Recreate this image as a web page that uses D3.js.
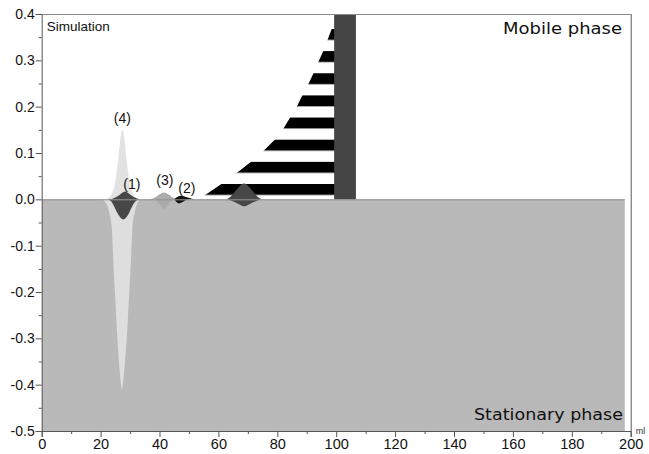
<!DOCTYPE html>
<html>
<head>
<meta charset="utf-8">
<script src="https://cdn.jsdelivr.net/npm/d3@7"></script>
<style>
  html, body { margin: 0; padding: 0; background: #fff; }
  svg { display: block; font-family: "Liberation Sans", Arial, sans-serif; }
</style>
</head>
<body>
<svg id="chart" width="649" height="454"></svg>
<script>
// ---- axis ranges and ticks ----
const xDomain = [0, 200];
const yDomain = [-0.5, 0.4];
const xMajorTicks = [0, 20, 40, 60, 80, 100, 120, 140, 160, 180, 200];
const xMinorTicks = [10, 30, 50, 70, 90, 110, 130, 150, 170, 190];
const yMajorTicks = [0.4, 0.3, 0.2, 0.1, 0.0, -0.1, -0.2, -0.3, -0.4, -0.5];
const yMinorTicks = [0.35, 0.25, 0.15, 0.05, -0.05, -0.15, -0.25, -0.35, -0.45];

// ---- stationary phase bed (ml) ----
const stationaryBed = [0, 198];

// ---- concentration profiles: [ml, value] ----
// solute front travelling in the mobile phase (drawn hatched)
const frontMobile = [
  [53.5, 0], [55.4, 0.009], [60.9, 0.0325], [66.2, 0.057], [71.1, 0.081],
  [75.2, 0.104], [79.2, 0.129], [82.0, 0.152], [84.3, 0.176], [86.6, 0.200],
  [88.5, 0.224], [90.5, 0.248], [92.2, 0.271], [93.9, 0.296], [95.6, 0.320],
  [97.0, 0.343], [98.5, 0.368], [99.6, 0.392]
];
// saturated zone, runs off the top of the scale
const saturatedZone = [99.3, 106.7];
const saturatedTop = 0.4;

// peak (4)
const peak4Mobile = [
  [21.5, 0], [23.0, 0.005], [24.0, 0.015], [24.7, 0.028], [25.5, 0.060],
  [26.2, 0.098], [26.8, 0.135], [27.4, 0.150], [28.0, 0.135], [28.6, 0.098],
  [29.3, 0.060], [30.1, 0.028], [30.8, 0.015], [31.8, 0.005], [33.3, 0]
];
const peak4Stationary = [
  [20.4, 0], [22.1, -0.011], [23.0, -0.030], [23.8, -0.061], [24.3, -0.133],
  [24.9, -0.205], [25.5, -0.277], [26.2, -0.349], [26.8, -0.392], [27.2, -0.410],
  [27.7, -0.392], [28.3, -0.349], [29.1, -0.277], [29.7, -0.205], [30.3, -0.133],
  [30.8, -0.061], [31.5, -0.030], [32.3, -0.011], [33.6, 0]
];
// peak (1)
const peak1Mobile = [
  [23.5, 0], [25.0, 0.004], [26.5, 0.010], [27.5, 0.015], [28.3, 0.017],
  [29.1, 0.015], [30.1, 0.010], [31.6, 0.004], [33.2, 0]
];
const peak1Stationary = [
  [22.5, 0], [24.0, -0.008], [25.1, -0.022], [26.0, -0.033], [26.8, -0.040],
  [27.7, -0.0435], [28.6, -0.040], [29.4, -0.033], [30.2, -0.022], [31.4, -0.008], [33.0, 0]
];
// peak (3)
const peak3Mobile = [
  [36.8, 0], [38.5, 0.004], [40.0, 0.011], [41.5, 0.015], [43.0, 0.011], [44.5, 0.004], [46.2, 0]
];
const peak3Stationary = [
  [38.5, 0], [39.5, -0.006], [40.5, -0.015], [41.5, -0.021], [42.5, -0.015], [43.5, -0.006], [44.5, 0]
];
// peak (2)
const peak2Mobile = [
  [45.0, 0], [46.0, 0.005], [47.0, 0.008], [48.0, 0.007], [49.5, 0.004], [51.0, 0.0015], [52.5, 0]
];
const peak2Stationary = [
  [45.0, 0], [45.8, -0.006], [46.6, -0.009], [47.5, -0.007], [48.5, -0.003], [50.0, 0]
];
// unlabelled peak riding on the front
const peak5Mobile = [
  [62.8, 0], [64.0, 0.005], [65.3, 0.014], [66.7, 0.025], [68.7, 0.034],
  [70.7, 0.025], [72.1, 0.014], [73.4, 0.005], [74.7, 0]
];
const peak5Stationary = [
  [63.0, 0], [65.5, -0.006], [67.5, -0.012], [68.7, -0.015], [70.0, -0.012], [72.0, -0.006], [74.5, 0]
];

// peak labels: text, ml, value of the baseline
const peakLabels = [
  ["(4)", 27.4, 0.165],
  ["(1)", 30.6, 0.023],
  ["(3)", 41.8, 0.030],
  ["(2)", 49.3, 0.0146]
];

// hatch of the front, in value units
const hatchPeriod = 0.0478;
const hatchBase = 0.0095;
const hatchBand = 0.0236;

// ---- layout ----
const svg = d3.select("#chart");
const plot = { left: 41.7, right: 630.7, top: 14, bottom: 431 };

const x = d3.scaleLinear().domain(xDomain).range([plot.left, plot.right]);
const y = d3.scaleLinear().domain(yDomain).range([plot.bottom, plot.top]);

const defs = svg.append("defs");
defs.append("clipPath").attr("id", "plotClip")
  .append("rect")
  .attr("x", plot.left).attr("y", plot.top)
  .attr("width", plot.right - plot.left).attr("height", plot.bottom - plot.top);

const periodPx = y(0) - y(hatchPeriod);
const bandPx = y(0) - y(hatchBand);
const hatch = defs.append("pattern")
  .attr("id", "hatch")
  .attr("patternUnits", "userSpaceOnUse")
  .attr("x", 0)
  .attr("y", y(hatchBase + hatchBand))
  .attr("width", 20)
  .attr("height", periodPx);
hatch.append("rect").attr("x", 0).attr("y", 0).attr("width", 20).attr("height", bandPx).attr("fill", "#000");

const g = svg.append("g").attr("clip-path", "url(#plotClip)");

// stationary phase
g.append("rect")
  .attr("x", x(stationaryBed[0]))
  .attr("width", x(stationaryBed[1]) - x(stationaryBed[0]))
  .attr("y", y(0))
  .attr("height", y(yDomain[0]) - y(0))
  .attr("fill", "#b9b9b9");

const area = d3.area()
  .x(d => x(d[0]))
  .y0(y(0))
  .y1(d => y(d[1]))
  .curve(d3.curveMonotoneX);

// hatched front
g.append("path")
  .datum(frontMobile)
  .attr("d", d3.area().x(d => x(d[0])).y0(y(0)).y1(d => y(d[1]))(frontMobile))
  .attr("fill", "url(#hatch)");

function peak(data, fill) {
  g.append("path").datum(data).attr("d", area).attr("fill", fill);
}

peak(peak4Mobile, "#e2e2e2");
peak(peak4Stationary, "#dedede");
peak(peak3Mobile, "#acacac");
peak(peak3Stationary, "#a9a9a9");
peak(peak1Mobile, "#474747");
peak(peak1Stationary, "#474747");
peak(peak2Mobile, "#111111");
peak(peak2Stationary, "#111111");
peak(peak5Mobile, "#474747");
peak(peak5Stationary, "#474747");

// saturated zone
g.append("rect")
  .attr("x", x(saturatedZone[0]))
  .attr("width", x(saturatedZone[1]) - x(saturatedZone[0]))
  .attr("y", y(saturatedTop))
  .attr("height", y(0) - y(saturatedTop))
  .attr("fill", "#454545");

// phase boundary
g.append("line")
  .attr("x1", x(stationaryBed[0])).attr("x2", x(stationaryBed[1]))
  .attr("y1", y(0) + 0.5).attr("y2", y(0) + 0.5)
  .attr("stroke", "#8e8e8e").attr("stroke-width", 1);

// peak labels
svg.append("g").selectAll("text")
  .data(peakLabels)
  .join("text")
  .attr("x", d => x(d[1]))
  .attr("y", d => y(d[2]))
  .attr("text-anchor", "middle")
  .attr("font-size", 14)
  .attr("fill", "#111")
  .text(d => d[0]);

// frame: top and right
svg.append("line")
  .attr("x1", plot.left).attr("x2", plot.right)
  .attr("y1", plot.top + 0.5).attr("y2", plot.top + 0.5)
  .attr("stroke", "#8a8a8a");
svg.append("line")
  .attr("x1", plot.right + 0.5).attr("x2", plot.right + 0.5)
  .attr("y1", plot.top).attr("y2", plot.bottom)
  .attr("stroke", "#5a5a5a");

// axes
const axisColor = "#555";
const xAxis = svg.append("g").attr("transform", `translate(0,${plot.bottom})`)
  .call(d3.axisBottom(x).tickValues(xMajorTicks).tickSize(6).tickPadding(2).tickFormat(d3.format("d")));
const xMinor = svg.append("g").attr("transform", `translate(0,${plot.bottom})`)
  .call(d3.axisBottom(x).tickValues(xMinorTicks).tickSize(3).tickFormat(""));
xMinor.select(".domain").remove();

const yAxis = svg.append("g").attr("transform", `translate(${plot.left},0)`)
  .call(d3.axisLeft(y).tickValues(yMajorTicks).tickSize(6).tickPadding(1).tickFormat(d => d.toFixed(1)));
const yMinor = svg.append("g").attr("transform", `translate(${plot.left},0)`)
  .call(d3.axisLeft(y).tickValues(yMinorTicks).tickSize(3).tickFormat(""));
yMinor.select(".domain").remove();

svg.selectAll(".domain").attr("stroke", axisColor);
svg.selectAll(".tick line").attr("stroke", axisColor);
xAxis.selectAll("text").attr("font-size", 14.5).attr("fill", "#111").attr("font-family", "Liberation Sans, Arial, sans-serif");
yAxis.selectAll("text").attr("font-size", 14).attr("fill", "#111").attr("font-family", "Liberation Sans, Arial, sans-serif");

// unit
svg.append("text")
  .attr("x", plot.right + 5).attr("y", plot.bottom + 3)
  .attr("font-size", 9).attr("fill", "#333")
  .text("ml");

// captions
svg.append("text")
  .attr("x", plot.left + 5).attr("y", plot.top + 17)
  .attr("font-size", 13.5).attr("fill", "#111")
  .text("Simulation");

svg.append("text")
  .attr("x", 622).attr("y", 34)
  .attr("text-anchor", "end")
  .attr("font-family", "DejaVu Sans, sans-serif")
  .attr("font-size", 15.5)
  .attr("textLength", 119).attr("lengthAdjust", "spacingAndGlyphs")
  .attr("fill", "#111")
  .text("Mobile phase");

svg.append("text")
  .attr("x", 623).attr("y", 420)
  .attr("text-anchor", "end")
  .attr("font-family", "DejaVu Sans, sans-serif")
  .attr("font-size", 15.5)
  .attr("textLength", 149).attr("lengthAdjust", "spacingAndGlyphs")
  .attr("fill", "#111")
  .text("Stationary phase");
</script>
</body>
</html>
